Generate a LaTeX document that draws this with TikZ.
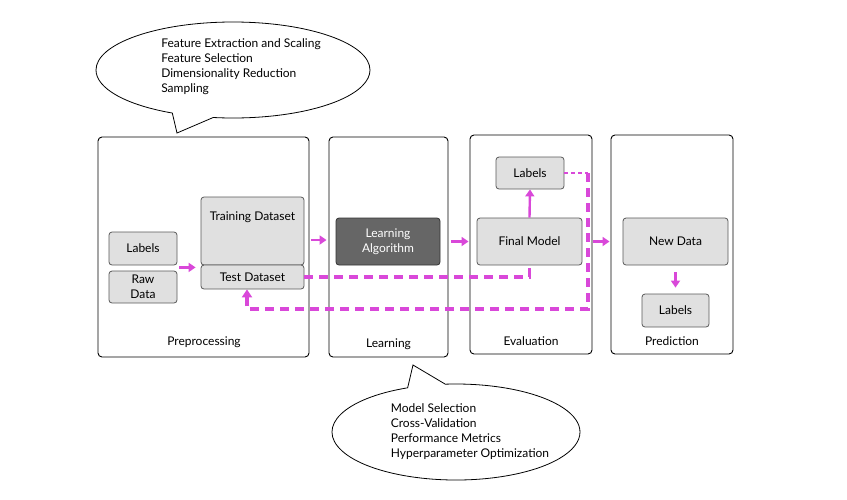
\documentclass[tikz,border=0pt]{standalone}
\usepackage{fontspec}
\setmainfont{Lato}
\usetikzlibrary{arrows.meta,calc,shapes.callouts}
\definecolor{flusso}{RGB}{217,72,217}
\definecolor{grigio}{RGB}{224,224,224}
\tikzset{
    pannello/.style={draw,rounded corners=4pt,line width=0.9pt},
    scatola/.style={draw=black!65,fill=grigio,rounded corners=3pt,line width=0.8pt,align=center},
    freccia/.style={draw=flusso,line width=2.4pt,-{Triangle[length=7pt,width=9pt]}},
    tratto/.style={draw=flusso,line width=3.2pt,dash pattern=on 9pt off 6pt},
    trattino/.style={draw=flusso,line width=1.2pt,dash pattern=on 4pt off 3pt},
    nuvola/.style={ellipse callout,draw,line width=0.8pt,callout pointer arc=18}
}
\begin{document}
\begin{tikzpicture}[x=1pt,y=-1pt,font=\fontsize{12}{15}\selectfont]
        \useasboundingbox (0,0) rectangle (847,499);
        %%%%%%%%%% Pannelli %%%%%%%%%%
        \node (prep) at (203.5,247) [pannello,minimum width=211pt,minimum height=220pt] {};
        \node (learn) at (388.5,247) [pannello,minimum width=119pt,minimum height=220pt] {};
        \node (eval) at (531,244.5) [pannello,minimum width=122pt,minimum height=219pt] {};
        \node (pred) at (672,244.5) [pannello,minimum width=122pt,minimum height=219pt] {};
        \node (prepname) at (204,342) {Preprocessing};
        \node (learnname) at (388.5,344) {Learning};
        \node (evalname) at (531,341) {Evaluation};
        \node (predname) at (672,341) {Prediction};

        %%%%%%%%%% Nodi %%%%%%%%%%
        \node (labels) at (143,248.5) [scatola,minimum width=68pt,minimum height=33pt] {Labels};
        \node (raw) at (143,287) [scatola,minimum width=68pt,minimum height=32pt,inner sep=1pt] {Raw\\Data};
        \node (train) at (252.5,231) [scatola,minimum width=103pt,minimum height=68pt,
            label={[anchor=north,yshift=-12pt]north:Training Dataset}] {};
        \node (test) at (252.5,277) [scatola,minimum width=103pt,minimum height=24pt] {Test Dataset};
        \node (algo) at (388,241.5) [scatola,fill=black!60,draw=black!80,text=white,minimum width=104pt,minimum height=47pt,inner sep=1pt] {Learning\\Algorithm};
        \node (evlabels) at (530,173) [scatola,minimum width=68pt,minimum height=32pt] {Labels};
        \node (final) at (529.5,241.5) [scatola,minimum width=105pt,minimum height=47pt] {Final Model};
        \node (newdata) at (675.5,241.5) [scatola,minimum width=105pt,minimum height=47pt] {New Data};
        \node (predlabels) at (675.5,310.5) [scatola,minimum width=67pt,minimum height=33pt] {Labels};

        %%%%%%%%%% Nuvole %%%%%%%%%%
        \coordinate (preptip) at (177,133);
        \coordinate (learntip) at (413,365);
        \node (prepnote) at (233,70) [nuvola,minimum width=274pt,minimum height=96pt,callout absolute pointer={(preptip)}] {};
        \node (preptext) at (241,66.5) [align=left] {Feature Extraction and Scaling\\Feature Selection\\Dimensionality Reduction\\Sampling};
        \node (learnnote) at (456,432) [nuvola,minimum width=248pt,minimum height=96pt,callout absolute pointer={(learntip)}] {};
        \node (learntext) at (470,432) [align=left] {Model Selection\\Cross-Validation\\Performance Metrics\\Hyperparameter Optimization};

        %%%%%%%%% Frecce %%%%%%%%%
        \draw[freccia] ([xshift=2pt,yshift=-2pt]labels.south east) -- ([xshift=-5pt,yshift=-2pt]train.south west);
        \draw[freccia,shorten <=2pt,shorten >=2pt] ([yshift=7pt]prep.east) -- ([yshift=7pt]learn.west);
        \draw[freccia,shorten <=3pt,shorten >=1pt] (learn.east |- algo) -- (eval.west |- algo);
        \draw[freccia,shorten <=1pt,shorten >=1pt] (eval.east |- final) -- (pred.west |- final);
        \draw[freccia] (final.north) -- (evlabels.south);
        \draw[freccia,shorten <=7pt,shorten >=6pt] (newdata.south) -- (predlabels.north);

        %%%%%%%%% Tratteggi %%%%%%%%%
        \coordinate (giro) at (588,309);
        \draw[tratto] (test.east) -- (final.south |- test.east) -- (final.south);
        \draw[trattino] (evlabels.east) -- (evlabels.east -| giro);
        \draw[tratto,-{Triangle[length=8pt,width=10pt]}] (evlabels.east -| giro) -- (giro) -| ([xshift=-5.5pt]test.south);
    \end{tikzpicture}
\end{document}
